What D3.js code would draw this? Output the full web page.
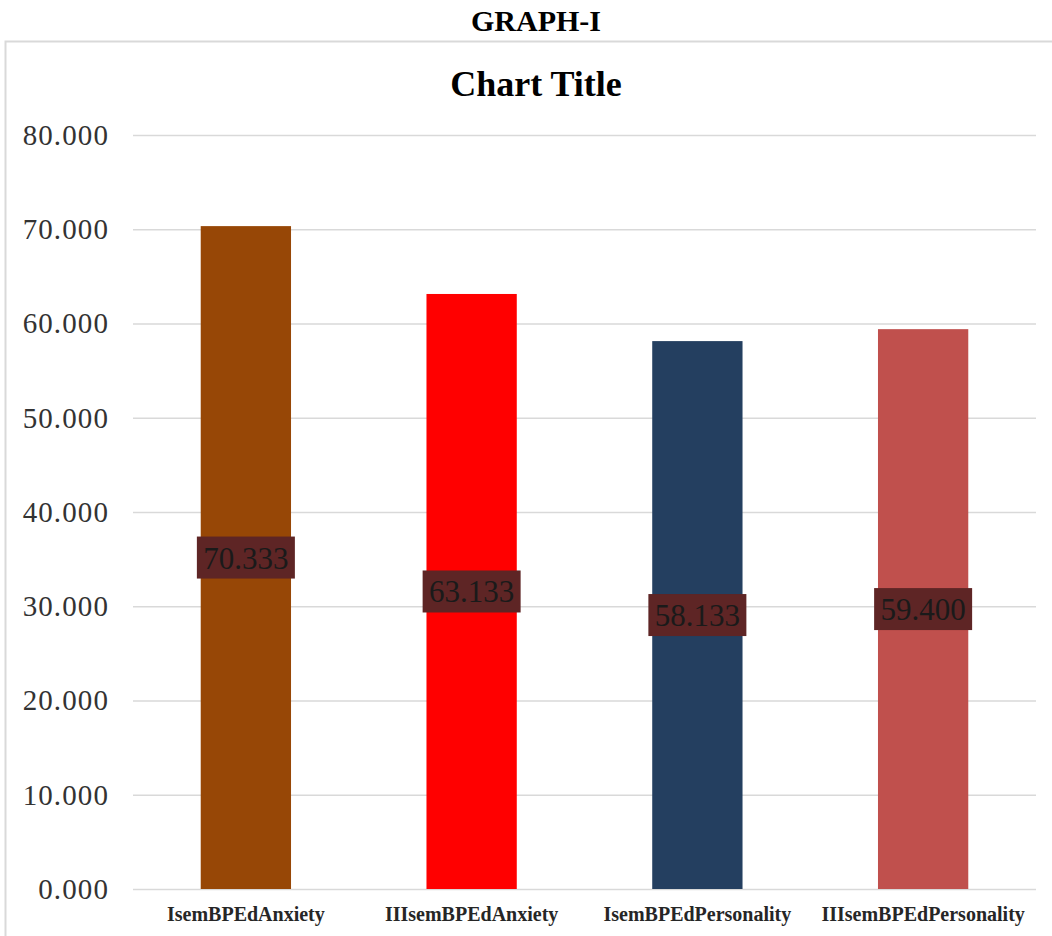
<!DOCTYPE html>
<html>
<head>
<meta charset="utf-8">
<script src="https://cdn.jsdelivr.net/npm/d3@7"></script>
<style>
  html, body { margin: 0; padding: 0; background: #ffffff; }
  svg { display: block; }
</style>
</head>
<body>
<svg id="chart" width="1052" height="936"></svg>
<script>
// Mean scores per group
const categories = ["IsemBPEdAnxiety", "IIIsemBPEdAnxiety", "IsemBPEdPersonality", "IIIsemBPEdPersonality"];
const values = [70.333, 63.133, 58.133, 59.400];
const barColors = ["#974706", "#ff0000", "#243f60", "#c0504d"];
const yTicks = [0, 10, 20, 30, 40, 50, 60, 70, 80];

const svg = d3.select("#chart");
const W = 1052, H = 936;
const serif = "'Liberation Serif', 'Times New Roman', serif";

const margin = { left: 133, right: 16, top: 135, bottom: 47 };
const x = d3.scaleBand()
  .domain(categories)
  .range([margin.left, W - margin.right])
  .paddingInner(0.6)
  .paddingOuter(0.3);
const y = d3.scaleLinear().domain([0, 80]).range([H - margin.bottom, margin.top]);

// Outer heading
svg.append("text")
  .attr("x", 536).attr("y", 31)
  .attr("text-anchor", "middle")
  .attr("font-family", serif).attr("font-weight", "bold")
  .attr("font-size", 30)
  .text("GRAPH-I");

// Chart area frame
svg.append("rect")
  .attr("x", 5.5).attr("y", 41.5)
  .attr("width", 1060).attr("height", 920)
  .attr("fill", "none")
  .attr("stroke", "#d9d9d9").attr("stroke-width", 2);

svg.append("text")
  .attr("x", 536).attr("y", 96)
  .attr("text-anchor", "middle")
  .attr("font-family", serif).attr("font-weight", "bold")
  .attr("font-size", 36)
  .text("Chart Title");

// Gridlines and y labels
const yAxis = d3.axisLeft(y)
  .tickValues(yTicks)
  .tickSize(-(W - margin.right - margin.left))
  .tickPadding(24)
  .tickFormat(d3.format(".3f"));
const yg = svg.append("g")
  .attr("transform", `translate(${margin.left},0)`)
  .call(yAxis);
yg.select(".domain").remove();
yg.selectAll(".tick line").attr("stroke", "#d9d9d9").attr("stroke-width", 1.3);
yg.selectAll(".tick text")
  .attr("font-family", serif).attr("font-size", 29)
  .attr("letter-spacing", 1.1)
  .attr("fill", "#333333");

// Bars
svg.append("g").selectAll("rect")
  .data(categories)
  .join("rect")
  .attr("x", d => x(d))
  .attr("y", (d, i) => y(values[i]))
  .attr("width", x.bandwidth())
  .attr("height", (d, i) => y(0) - y(values[i]))
  .attr("fill", (d, i) => barColors[i]);

// Category labels
svg.append("g").selectAll("text")
  .data(categories)
  .join("text")
  .attr("x", d => x(d) + x.bandwidth() / 2)
  .attr("y", 921)
  .attr("text-anchor", "middle")
  .attr("font-family", serif).attr("font-weight", "bold")
  .attr("font-size", 20)
  .attr("fill", "#262626")
  .text(d => d);

// Value labels at mid-bar
const labelG = svg.append("g").selectAll("g")
  .data(categories)
  .join("g")
  .attr("transform", (d, i) => `translate(${x(d) + x.bandwidth() / 2},${y(values[i] / 2)})`);
labelG.append("rect")
  .attr("x", -49).attr("y", -21)
  .attr("width", 98).attr("height", 42)
  .attr("fill", "#5e2525");
labelG.append("text")
  .attr("y", 11)
  .attr("text-anchor", "middle")
  .attr("font-family", serif)
  .attr("font-size", 31)
  .attr("fill", "#1a1a1a")
  .text((d, i) => d3.format(".3f")(values[i]));
</script>
</body>
</html>
